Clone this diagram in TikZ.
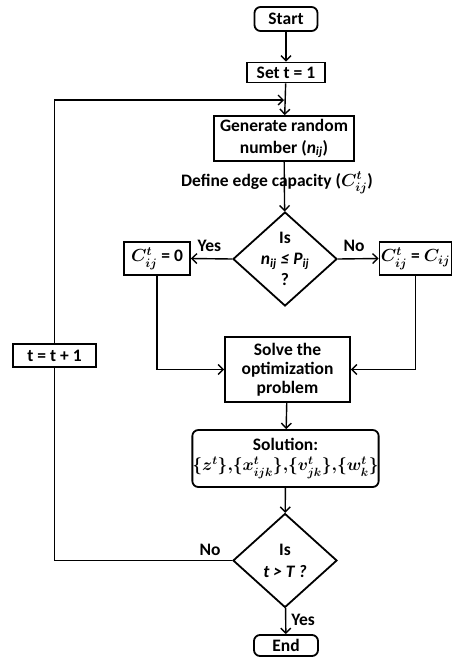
\documentclass[tikz,border=0pt]{standalone}
\usepackage{fix-cm}
\usepackage{amsmath}
\usepackage{bm}
\usepackage{fontspec}
\setmainfont{Carlito}
\usetikzlibrary{arrows.meta,shapes.geometric}
\begin{document}
\begin{tikzpicture}[x=1pt,y=-1pt,
  txt/.style={font=\fontsize{17.5}{22}\selectfont\bfseries\boldmath, align=center, inner sep=0pt},
  box/.style={txt, draw, line width=1.8pt, minimum width=#1},
  rbox/.style={box=#1, rounded corners=6pt},
  dia/.style={draw, diamond, line width=1.8pt, minimum width=104pt, minimum height=94pt, inner sep=0pt},
  conn/.style={line width=1.4pt, -{Straight Barb[length=5pt,width=10pt,line width=1.4pt]}},
  line/.style={line width=1.4pt}
]
\useasboundingbox (0,0) rectangle (453,659);

\node[rbox=63pt, minimum height=24pt] (start) at (286,19) {Start};
\node[box=78pt, minimum height=20pt] (set) at (286,72.5) {Set t = 1};
\node[box=140pt, minimum height=45pt] (gen) at (284,138.5) {Generate random\\ number (\textit{n}\textsubscript{\textit{ij}})};
\node[txt] (def) at (277,183) {Define edge capacity ($\bm{C^t_{ij}}$)};
\node[dia] (d1) at (285,259) {};
\node[txt] (d1t) at (285,259) {Is\\[-1pt] \textit{n\textsubscript{ij} ≤ P\textsubscript{ij}}\\[-1pt] ?};
\node[box=66pt, minimum height=33pt] (c0) at (157,258.5) {$\bm{C^t_{ij}}$ = 0};
\node[box=72pt, minimum height=33pt] (cc) at (415.5,258.5) {$\bm{C^t_{ij}}$ = $\bm{C_{ij}}$};
\node[box=125pt, minimum height=65pt] (solve) at (287.5,369.5) {Solve the\\[-3pt] optimization\\[-3pt] problem};
\node[rbox=183pt, minimum height=57pt] (sol) at (285.5,458.5) {Solution:\\[-2pt] {\fontsize{17}{20}\selectfont$\bm{\{z^t\}{,}\{x^t_{ijk}\}{,}\{v^t_{jk}\}{,}\{w^t_k\}}$}};
\node[box=83pt, minimum height=23pt] (inc) at (54.5,355.5) {t = t + 1};
\node[dia] (d2) at (285,560.5) {};
\node[txt] (d2t) at (285,560.5) {Is\\ \textit{t > T ?}};
\node[rbox=64pt, minimum height=21pt] (end) at (286,645.5) {End};

\coordinate (join) at (285,100);

\draw[conn] (start) -- (set);
\draw[conn] (set) -- (gen);
\draw[conn] (gen) -- (d1);
\draw[conn] (d1.west) -- (c0.east) node[txt, pos=0.55, above=6pt] {Yes};
\draw[conn] (d1.east) -- (cc.west) node[txt, pos=0.4, above=6pt] {No};
\draw[conn] (c0.south) |- (solve.west);
\draw[conn] (cc.south) |- (solve.east);
\draw[conn] (solve) -- (sol);
\draw[conn] (sol) -- (d2);
\draw[conn] (d2) -- (end) node[txt, pos=0.45, right=5pt] {Yes};
\draw[line] (d2.west) -| (inc.south);
\node[txt] (no2) at (210,550) {No};
\draw[conn] (inc.north) |- ([xshift=-1pt]join);
\end{tikzpicture}
\end{document}
